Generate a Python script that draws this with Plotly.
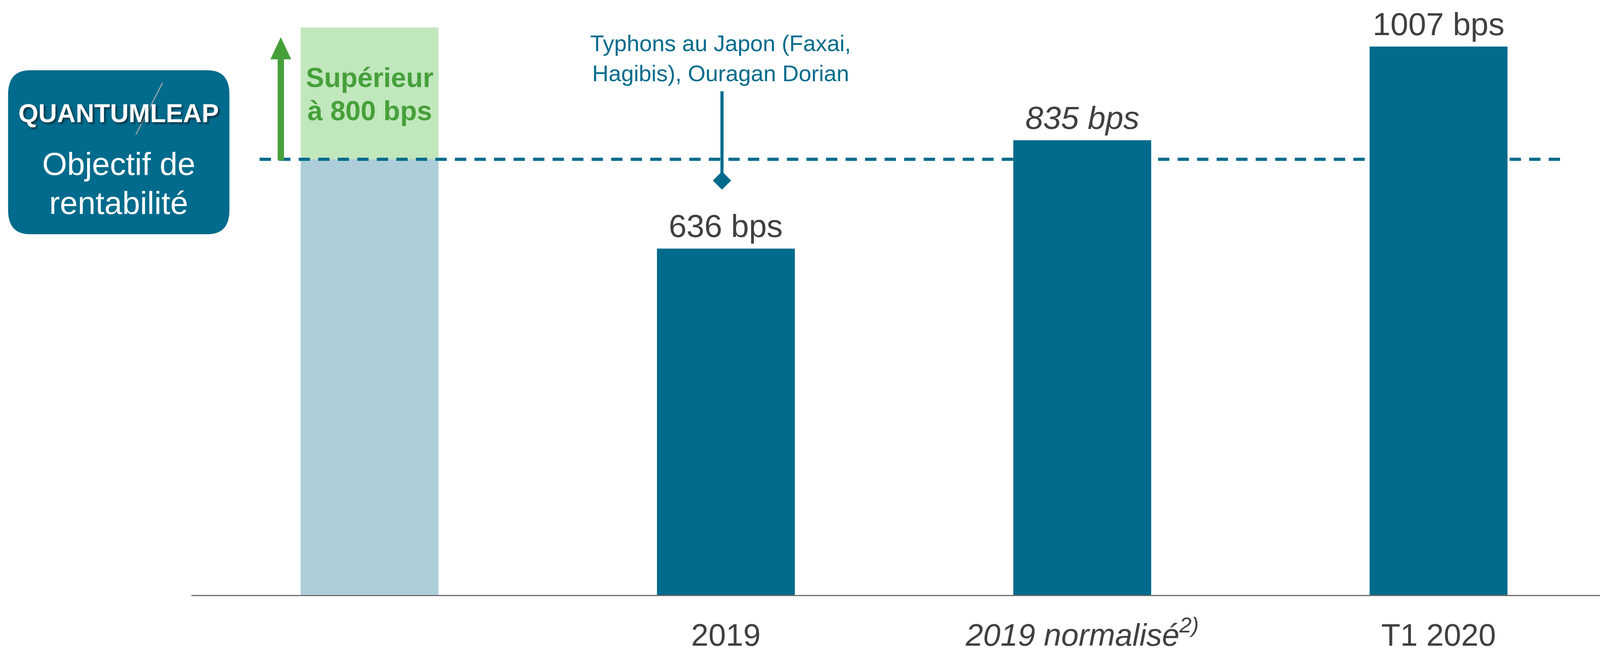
import plotly.graph_objects as go

# ---------------- data ----------------
CATEGORY_POS = [0, 1, 2, 3]
TICK_LABELS = ["2019", "<i>2019 normalisé<sup>2)</sup></i>", "T1 2020"]
TARGET = 800            # objectif QuantumLeap (bps)
TARGET_UPPER = 1042     # haut de la zone verte "supérieur à 800 bps"
VALUES = [636, 835, 1007]
VALUE_LABELS = ["636 bps", "<i>835 bps</i>", "1007 bps"]
EVENT_LINES = ["Typhons au Japon (Faxai,", "Hagibis), Ouragan Dorian"]
PIN_TOP = 925
PIN_BOTTOM = 761
TARGET_LABEL = ["Supérieur", "à 800 bps"]

# ---------------- layout constants ----------------
REF_W = 4547            # design width of the original drawing
W, H = 4096, 1665       # browser viewport is 4096 px wide
S = W / REF_W
ML, MR, MT, MB = round(544 * S), 0, 0, 141
PW, PH = W - ML - MR, H - MT - MB
FONT = "Liberation Sans, Arial, sans-serif"
TEAL = "#006B8C"
GREY_TXT = "#404040"
GREEN = "#46A03A"
LIGHT_BLUE = "#ADCDD8"
LIGHT_GREEN = "#C1E7BD"
BAR_W = 0.387
XR = [-0.5, 3.453]
YR = [0, 1092.5]


def X(px):
    # reference-drawing px -> paper x
    return (px * S - ML) / PW


def Y(py):
    return (MT + PH - py) / PH


def cy(baseline, size):
    # vertical centre of a text box for a given baseline (px from top)
    return Y(baseline - 0.3465 * size)


fig = go.Figure()

# target zone (light bars)
fig.add_trace(go.Bar(x=[CATEGORY_POS[0]], y=[TARGET], width=BAR_W,
                     marker=dict(color=LIGHT_BLUE, line=dict(width=0)),
                     hoverinfo="skip", showlegend=False))
fig.add_trace(go.Bar(x=[CATEGORY_POS[0]], y=[TARGET_UPPER - TARGET], base=[TARGET],
                     width=BAR_W, marker=dict(color=LIGHT_GREEN, line=dict(width=0)),
                     hoverinfo="skip", showlegend=False))

# dashed target line
fig.add_trace(go.Scatter(x=[-0.3086, 3.3605], y=[TARGET, TARGET], mode="lines",
                         line=dict(color=TEAL, width=8, dash="29px,21px"),
                         hoverinfo="skip", showlegend=False))

# pin for the event annotation
fig.add_trace(go.Scatter(x=[0.989, 0.989], y=[PIN_TOP, PIN_BOTTOM], mode="lines",
                         line=dict(color=TEAL, width=8),
                         hoverinfo="skip", showlegend=False))
fig.add_trace(go.Scatter(x=[0.989], y=[PIN_BOTTOM], mode="markers",
                         marker=dict(symbol="diamond", size=36, color=TEAL,
                                     line=dict(width=0)),
                         hoverinfo="skip", showlegend=False))

# actual bars (overlay axis so they sit above the dashed line)
fig.add_trace(go.Bar(x=CATEGORY_POS[1:], y=VALUES, width=BAR_W, xaxis="x2", yaxis="y",
                     marker=dict(color=TEAL, line=dict(width=0)),
                     hoverinfo="skip", showlegend=False))

annotations = []
for xpos, v, lab in zip(CATEGORY_POS[1:], VALUES, VALUE_LABELS):
    annotations.append(dict(x=xpos, y=v, xref="x", yref="y", text=lab, showarrow=False,
                            xanchor="center", yanchor="middle", yshift=58,
                            font=dict(family=FONT, size=82, color=GREY_TXT)))

# green target text
for line, base in zip(TARGET_LABEL, [223, 308]):
    annotations.append(dict(x=CATEGORY_POS[0], y=cy(base, 70), xref="x", yref="paper",
                            text=f"<b>{line}</b>", showarrow=False,
                            xanchor="center", yanchor="middle",
                            font=dict(family=FONT, size=70, color=GREEN)))

# event text
for line, base in zip(EVENT_LINES, [131, 208]):
    annotations.append(dict(x=X(2048), y=cy(base, 58), xref="paper", yref="paper",
                            text=line, showarrow=False, xanchor="center", yanchor="middle",
                            font=dict(family=FONT, size=58, color=TEAL)))

# logo box texts
annotations.append(dict(x=X(337), y=cy(313, 66), xref="paper", yref="paper",
                        text="<b>QUANTUMLEAP</b>", showarrow=False,
                        xanchor="center", yanchor="middle",
                        font=dict(family=FONT, size=66, color="white",
                                  shadow="4px 4px 5px rgba(0,0,0,0.55)")))
annotations.append(dict(x=X(337), y=cy(448, 82), xref="paper", yref="paper",
                        text="Objectif de", showarrow=False,
                        xanchor="center", yanchor="middle",
                        font=dict(family=FONT, size=82, color="white")))
annotations.append(dict(x=X(337), y=cy(548, 82), xref="paper", yref="paper",
                        text="rentabilité", showarrow=False,
                        xanchor="center", yanchor="middle",
                        font=dict(family=FONT, size=82, color="white")))

# rounded logo box
x0, x1, y0, y1, r = 23, 652, 180, 600, 62
box_path = (f"M {X(x0+r)},{Y(y0)} L {X(x1-r)},{Y(y0)} Q {X(x1)},{Y(y0)} {X(x1)},{Y(y0+r)} "
            f"L {X(x1)},{Y(y1-r)} Q {X(x1)},{Y(y1)} {X(x1-r)},{Y(y1)} "
            f"L {X(x0+r)},{Y(y1)} Q {X(x0)},{Y(y1)} {X(x0)},{Y(y1-r)} "
            f"L {X(x0)},{Y(y0+r)} Q {X(x0)},{Y(y0)} {X(x0+r)},{Y(y0)} Z")
arrow_path = (f"M {X(789)},{Y(411)} L {X(789)},{Y(152)} L {X(768.5)},{Y(152)} "
              f"L {X(798)},{Y(95)} L {X(827.5)},{Y(152)} L {X(807)},{Y(152)} "
              f"L {X(807)},{Y(411)} Z")
shapes = [
    dict(type="path", path=box_path, xref="paper", yref="paper",
         fillcolor=TEAL, line=dict(width=0), layer="above"),
    dict(type="line", x0=X(462), y0=Y(212), x1=X(386), y1=Y(345), xref="paper",
         yref="paper", line=dict(color="#8fa3ab", width=3), layer="above"),
    dict(type="path", path=arrow_path, xref="paper", yref="paper",
         fillcolor=GREEN, line=dict(width=0), layer="above"),
]

fig.update_layout(
    width=W, height=H, autosize=False,
    margin=dict(l=ML, r=MR, t=MT, b=MB, pad=0, autoexpand=False),
    paper_bgcolor="white", plot_bgcolor="white",
    barmode="overlay", showlegend=False,
    font=dict(family=FONT, color=GREY_TXT),
    xaxis=dict(range=XR, tickvals=CATEGORY_POS[1:], ticktext=TICK_LABELS,
               showgrid=False, zeroline=False, showline=True, linecolor="#6e6e6e",
               linewidth=3, ticks="", ticklabelstandoff=31, automargin=False,
               tickfont=dict(family=FONT, size=80, color=GREY_TXT), fixedrange=True),
    xaxis2=dict(range=XR, overlaying="x", visible=False, fixedrange=True, automargin=False),
    yaxis=dict(range=YR, visible=False, fixedrange=True, automargin=False),
    annotations=annotations,
    shapes=shapes,
)

fig.write_html("out.html", config={"displayModeBar": False},
               post_script="document.body.style.margin='0';")
